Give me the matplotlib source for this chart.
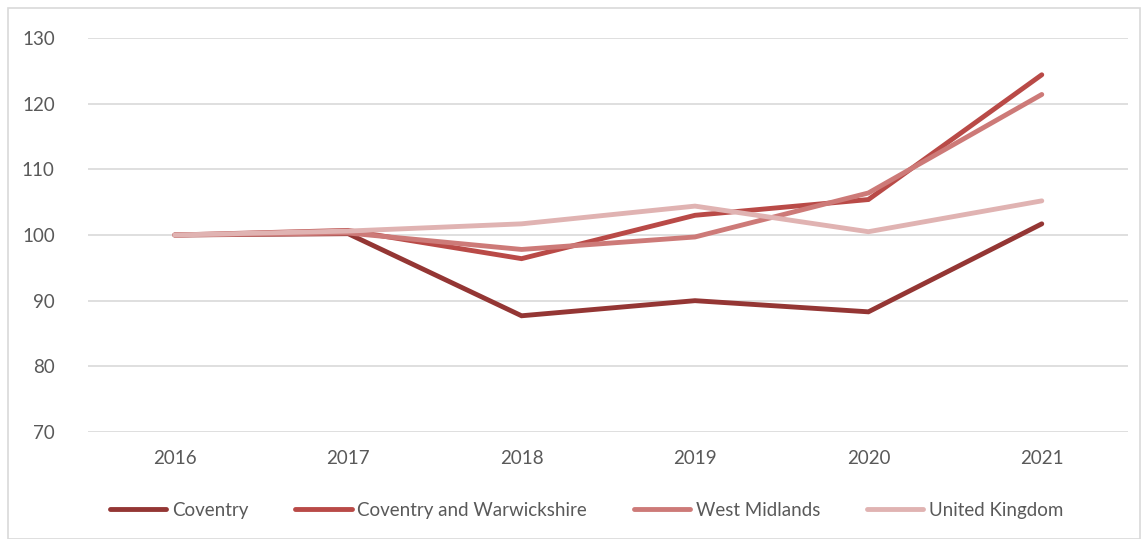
import matplotlib
matplotlib.use("Agg")
import matplotlib.pyplot as plt
from matplotlib.patches import Rectangle

years = ["2016", "2017", "2018", "2019", "2020", "2021"]
coventry = [100, 100.2, 87.7, 90.0, 88.3, 101.7]
cov_warks = [100, 100.7, 96.4, 103.0, 105.4, 124.4]
west_mids = [100, 100.3, 97.8, 99.7, 106.4, 121.4]
uk = [100, 100.6, 101.7, 104.4, 100.5, 105.2]

series = [
    ("Coventry", coventry, "#943634"),
    ("Coventry and Warwickshire", cov_warks, "#B94A47"),
    ("West Midlands", west_mids, "#CD7A78"),
    ("United Kingdom", uk, "#E0B3B2"),
]

plt.rcParams['font.family'] = ['Lato', 'DejaVu Sans']
txt = "#595959"
fs = 13.5

fig = plt.figure(figsize=(11.48, 5.39), dpi=100)
ax = fig.add_axes((0.0767, 0.1985, 0.9063, 0.731))

x = range(len(years))
for name, vals, col in series:
    ax.plot(x, vals, color=col, lw=3.5, label=name,
            solid_capstyle='round', solid_joinstyle='miter')

ax.set_xlim(-0.5, 5.5)
ax.set_ylim(70, 130)
ax.set_yticks(range(70, 131, 10))
ax.set_xticks(list(x))
ax.set_xticklabels(years)
ax.grid(axis='y', color='#D9D9D9', lw=1.2)
ax.set_axisbelow(True)
for s in ax.spines.values():
    s.set_visible(False)
ax.tick_params(length=0, labelsize=fs, colors=txt)
ax.tick_params(axis='y', pad=24)
ax.tick_params(axis='x', pad=13)

leg = fig.legend(loc='center', bbox_to_anchor=(0.511, 0.053), ncol=4,
                 frameon=False, fontsize=fs, handlelength=3.0,
                 handletextpad=0.3, columnspacing=2.5)
for t in leg.get_texts():
    t.set_color(txt)

fig.patches.append(Rectangle((8 / 1148, 0.0), 1132 / 1148, 531 / 539,
                             transform=fig.transFigure, fill=False,
                             edgecolor='#D9D9D9', lw=1.2))

fig.savefig("out.png", dpi=100)
